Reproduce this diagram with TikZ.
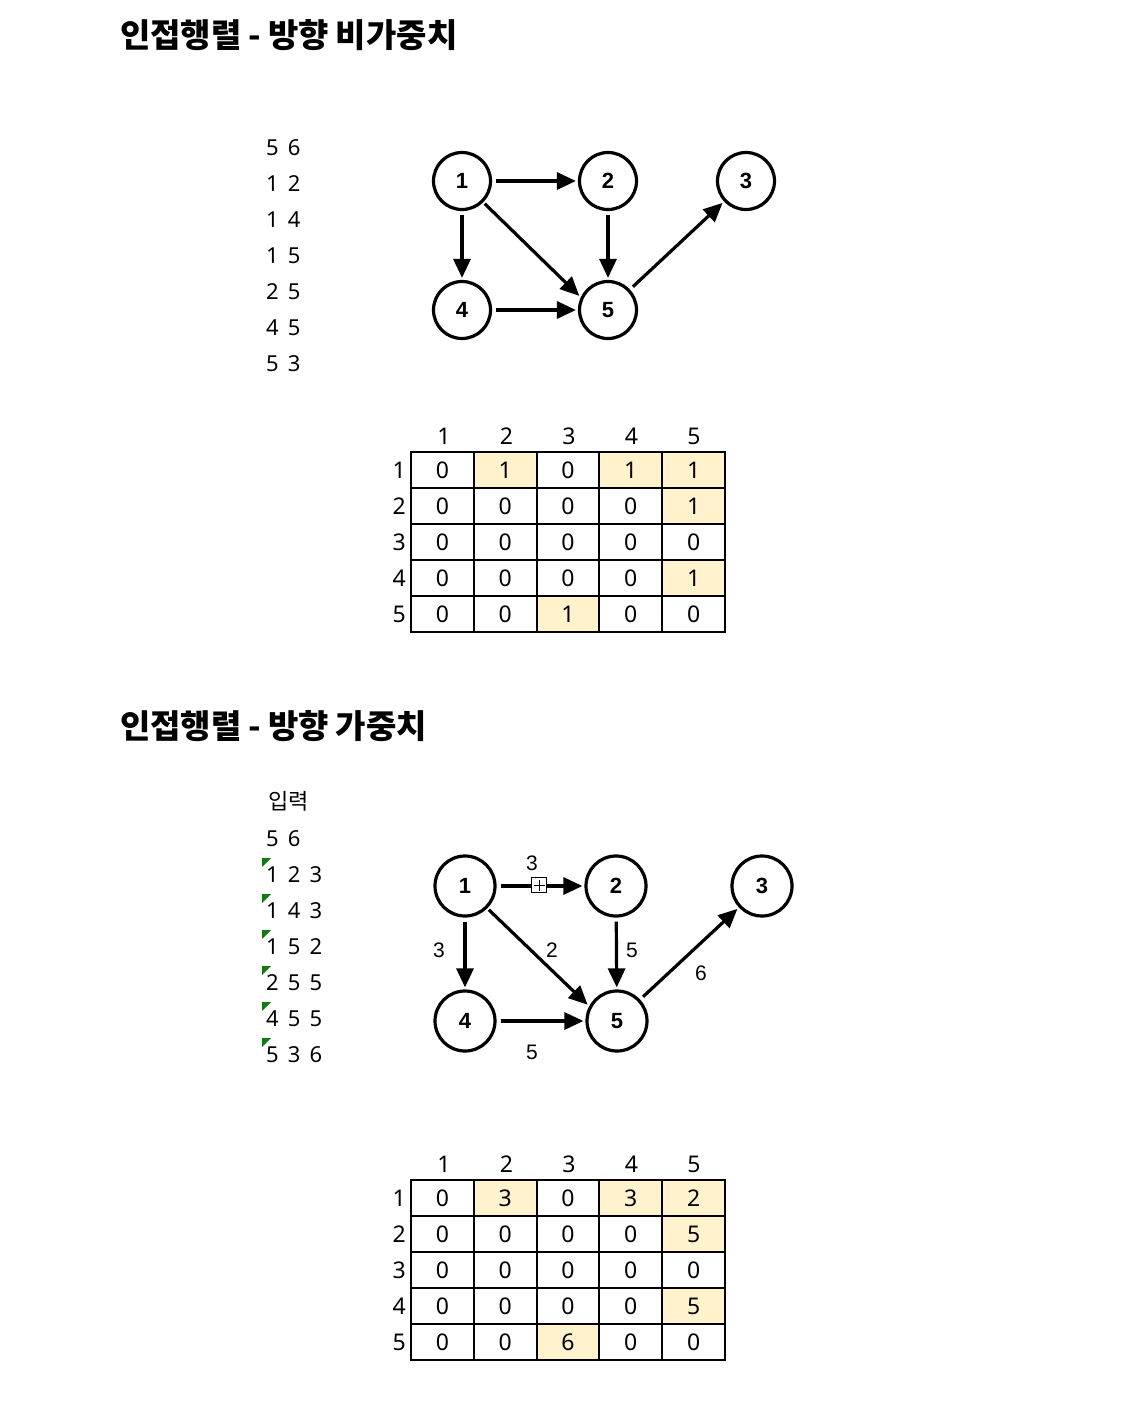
\documentclass[tikz,border=0pt]{standalone}
\usepackage{fontspec}
\setmainfont{Noto Sans}
\newfontfamily\kr{Noto Sans CJK KR}
\newfontfamily\inpf[WordSpace=1.6]{Noto Sans}
\newfontfamily\arialf{Liberation Sans}
\usetikzlibrary{arrows.meta}
\definecolor{hl}{HTML}{FFF2CC}
\definecolor{mark}{HTML}{107C10}
\newcommand{\tsp}{\hspace{7pt}}
\begin{document}
\begin{tikzpicture}[x=1pt,y=-1pt,
  title/.style={anchor=west,inner sep=0pt,font=\kr\fontsize{33}{35}\selectfont\bfseries},
  inp/.style={anchor=west,inner sep=0pt,font=\inpf\fontsize{22}{24}\selectfont},
  vx/.style={circle,draw,line width=3.2pt,minimum size=57pt,inner sep=0pt,font=\arialf\fontsize{22}{24}\selectfont\bfseries},
  vxb/.style={vx,minimum size=60pt},
  ed/.style={line width=3.2pt,-{Triangle[length=19pt,width=17pt]},shorten <=4pt,shorten >=2pt},
  wl/.style={inner sep=0pt,font=\arialf\fontsize{21}{23}\selectfont},
  cell/.style={draw,line width=2pt,minimum width=62.8pt,minimum height=36pt,inner sep=0pt,font=\fontsize{23}{25}\selectfont},
  hd/.style={inner sep=0pt,font=\fontsize{23}{25}\selectfont},
  gm/.style={fill=mark}]
\useasboundingbox (0,0) rectangle (1142,1412);
\fill[white] (0,0) rectangle (1142,1412);

% ---------- section 1 ----------
\node[title] (t1) at (120,35) {인접행렬{\tsp}-{\tsp}방향{\tsp}비가중치};
\foreach \t [count=\i] in {5 6,1 2,1 4,1 5,2 5,4 5,5 3}
  \node[inp] (a\i) at (266,148+36*\i-36) {\t};

\node[vx] (p1) at (462,181) {1};
\node[vx] (p2) at (608,181) {2};
\node[vx] (p3) at (746,181) {3};
\node[vx] (p4) at (462,310) {4};
\node[vx] (p5) at (608,310) {5};
\draw[ed] (p1) -- (p2);
\draw[ed] (p1) -- (p4);
\draw[ed,shorten <=2pt] (p1.-45) -- (p5.155);
\draw[ed] (p2) -- (p5);
\draw[ed] (p4) -- (p5);
\draw[ed] (p5) -- (p3);

% matrix 1 cells
\foreach \r/\c/\v/\f in {1/1/0/white,1/2/1/hl,1/3/0/white,1/4/1/hl,1/5/1/hl,
  2/1/0/white,2/2/0/white,2/3/0/white,2/4/0/white,2/5/1/hl,
  3/1/0/white,3/2/0/white,3/3/0/white,3/4/0/white,3/5/0/white,
  4/1/0/white,4/2/0/white,4/3/0/white,4/4/0/white,4/5/1/hl,
  5/1/0/white,5/2/0/white,5/3/1/hl,5/4/0/white,5/5/0/white}
  \node[cell,fill=\f] (m\r-\c) at (442.4+62.8*\c-62.8,470+36*\r-36) {\v};
\foreach \i in {1,...,5}{
  \node[hd] (mc\i) at (444+62.5*\i-62.5,436) {\i};
  \node[hd,anchor=east] (mr\i) at (406,470+36*\i-36) {\i};
}

% ---------- section 2 ----------
\node[title] (t2) at (120,726) {인접행렬{\tsp}-{\tsp}방향{\tsp}가중치};
\node[inp,font=\kr\fontsize{22}{24}\selectfont] (b0) at (268,801) {입력};
\foreach \t [count=\i] in {5 6,1 2 3,1 4 3,1 5 2,2 5 5,4 5 5,5 3 6}
  \node[inp] (b\i) at (266,839+36*\i-36) {\t};
\foreach \i in {1,...,6}
  \fill[gm] (262,858+36*\i-36) -- (271,858+36*\i-36) -- (262,867+36*\i-36) -- cycle;

\node[vxb] (q1) at (465,886) {1};
\node[vxb] (q2) at (616,886) {2};
\node[vxb] (q3) at (762,886) {3};
\node[vxb] (q4) at (465,1021) {4};
\node[vxb] (q5) at (617,1021) {5};
\draw[ed] (q1) -- (q2);
\draw[ed] (q1) -- (q4);
\draw[ed,shorten <=2pt] (q1.-45) -- (q5.152);
\draw[ed] (q2) -- (q5);
\draw[ed] (q4) -- (q5);
\draw[ed] (q5) -- (q3);
\node[draw,fill=white,line width=1pt,minimum size=15pt,inner sep=0pt,
  path picture={\draw[line width=0.9pt] ([yshift=-2pt]path picture bounding box.north) -- ([yshift=2pt]path picture bounding box.south);
  \draw[line width=0.9pt] ([xshift=2pt]path picture bounding box.west) -- ([xshift=-2pt]path picture bounding box.east);}] (plus) at (539,885) {};
\node[wl] (w12) at (532,863) {3};
\node[wl] (w14) at (439,950) {3};
\node[wl] (w15) at (552,950) {2};
\node[wl] (w25) at (632,950) {5};
\node[wl] (w53) at (701,973) {6};
\node[wl] (w45) at (532,1052) {5};

\foreach \r/\c/\v/\f in {1/1/0/white,1/2/3/hl,1/3/0/white,1/4/3/hl,1/5/2/hl,
  2/1/0/white,2/2/0/white,2/3/0/white,2/4/0/white,2/5/5/hl,
  3/1/0/white,3/2/0/white,3/3/0/white,3/4/0/white,3/5/0/white,
  4/1/0/white,4/2/0/white,4/3/0/white,4/4/0/white,4/5/5/hl,
  5/1/0/white,5/2/0/white,5/3/6/hl,5/4/0/white,5/5/0/white}
  \node[cell,fill=\f] (n\r-\c) at (442.4+62.8*\c-62.8,1198+36*\r-36) {\v};
\foreach \i in {1,...,5}{
  \node[hd] (nc\i) at (444+62.5*\i-62.5,1164) {\i};
  \node[hd,anchor=east] (nr\i) at (406,1198+36*\i-36) {\i};
}
\end{tikzpicture}
\end{document}
